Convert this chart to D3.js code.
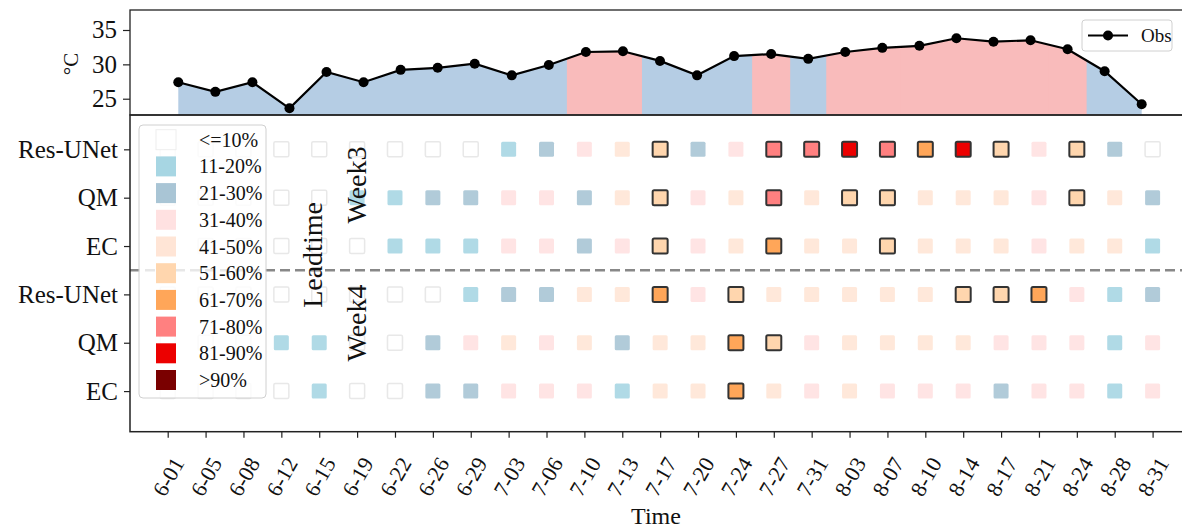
<!DOCTYPE html>
<html>
<head>
<meta charset="utf-8">
<script src="https://cdn.jsdelivr.net/npm/d3@7"></script>
<style>
    body { margin: 0; background: #fff; }
    text { font-family: "Liberation Serif", "Times New Roman", serif; fill: #111; }
</style>
</head>
<body>
<div id="chart"></div>
<script>
// data
var dates = ["6-01", "6-05", "6-08", "6-12", "6-15", "6-19", "6-22", "6-26", "6-29",
    "7-03", "7-06", "7-10", "7-13", "7-17", "7-20", "7-24", "7-27", "7-31",
    "8-03", "8-07", "8-10", "8-14", "8-17", "8-21", "8-24", "8-28", "8-31"];
var obs = [27.4, 26.0, 27.4, 23.6, 28.9, 27.4, 29.2, 29.5, 30.1, 28.4, 29.9, 31.8, 31.9, 30.5,
    28.4, 31.2, 31.5, 30.8, 31.8, 32.4, 32.7, 33.8, 33.3, 33.5, 32.2, 29.0, 24.2];
// 1 = hot period (red shading), 0 = normal (blue shading)
var hotFlag = [0, 0, 0, 0, 0, 0, 0, 0, 0, 0, 0, 1, 1, 0, 0, 0, 1, 0, 1, 1, 1, 1, 1, 1, 1, 0, 0];

var rowLabels = ["Res-UNet", "QM", "EC", "Res-UNet", "QM", "EC"];
// probability class per date: 0 "<=10%" ... 9 ">90%"
var resunetW3 = [0, 0, 0, 0, 0, 0, 0, 0, 0, 1, 2, 3, 4, 5, 2, 3, 7, 7, 8, 7, 6, 8, 5, 3, 5, 2, 0];
var qmW3      = [0, 0, 0, 0, 0, 1, 1, 2, 2, 3, 3, 2, 4, 5, 3, 4, 7, 4, 5, 5, 4, 4, 4, 3, 5, 4, 2];
var ecW3      = [0, 0, 0, 0, 0, 0, 1, 1, 1, 3, 3, 2, 3, 5, 3, 4, 6, 4, 4, 5, 4, 4, 4, 3, 4, 4, 1];
var resunetW4 = [0, 0, 0, 0, 0, 0, 0, 0, 1, 2, 2, 4, 4, 6, 3, 5, 4, 4, 4, 4, 4, 5, 5, 6, 3, 1, 2];
var qmW4      = [0, 0, 0, 1, 1, 0, 0, 2, 3, 4, 3, 4, 2, 4, 4, 6, 5, 3, 4, 4, 4, 4, 3, 3, 3, 1, 3];
var ecW4      = [0, 0, 0, 0, 1, 0, 0, 2, 2, 3, 3, 3, 1, 4, 4, 6, 4, 3, 4, 3, 3, 3, 2, 3, 3, 1, 3];
var rows = [resunetW3, qmW3, ecW3, resunetW4, qmW4, ecW4];

var classLabels = ["<=10%", "11-20%", "21-30%", "31-40%", "41-50%", "51-60%", "61-70%", "71-80%", "81-90%", ">90%"];
var classColors = ["#ffffff", "#a7d6e3", "#a9c5d5", "#ffe1e1", "#ffe5d6", "#ffd6ae", "#ffa659", "#ff8080", "#ec0000", "#7a0000"];

var width = 1182, height = 530;
var left = 130, right = 1183;
var topY0 = 10, topY1 = 115, botY1 = 431.7;

var svg = d3.select("#chart").append("svg")
    .attr("width", width)
    .attr("height", height);

// ---------- top panel: observations ----------
var xTop = d3.scalePoint().domain(dates).range([178.3, 1141.7]);
var yTop = d3.scaleLinear().domain([22.63, 37.91]).range([topY1, topY0]);
var step = xTop.step();

var area = d3.area()
    .x(function (d, i) { return xTop(dates[i]); })
    .y0(topY1)
    .y1(function (d) { return yTop(d); });

svg.append("defs").append("clipPath")
    .attr("id", "areaClip")
    .append("path")
    .attr("d", area(obs));

svg.append("path")
    .attr("d", area(obs))
    .attr("fill", "#b5cde4");

// red shading, one rect per hot day (slight overlap hides seams)
svg.append("g")
    .attr("clip-path", "url(#areaClip)")
    .selectAll("rect")
    .data(dates.filter(function (d, i) { return hotFlag[i] === 1; }))
    .enter()
    .append("rect")
    .attr("x", function (d) { return xTop(d) - step / 2 - 0.5; })
    .attr("y", topY0)
    .attr("width", step + 1)
    .attr("height", topY1 - topY0)
    .attr("fill", "#f9bbbb");

var line = d3.line()
    .x(function (d, i) { return xTop(dates[i]); })
    .y(function (d) { return yTop(d); });

svg.append("path")
    .attr("d", line(obs))
    .attr("fill", "none")
    .attr("stroke", "#000")
    .attr("stroke-width", 2.2);

svg.append("g").selectAll("circle")
    .data(obs)
    .enter()
    .append("circle")
    .attr("cx", function (d, i) { return xTop(dates[i]); })
    .attr("cy", function (d) { return yTop(d); })
    .attr("r", 5)
    .attr("fill", "#000");

var yAxisTop = svg.append("g")
    .attr("transform", "translate(" + left + ",0)")
    .call(d3.axisLeft(yTop).tickValues([25, 30, 35]).tickSize(7).tickPadding(6));
yAxisTop.select(".domain").remove();
yAxisTop.selectAll("line").attr("stroke", "#222").attr("stroke-width", 1.2);
yAxisTop.selectAll("text").style("font-size", "25px").attr("fill", "#111");

svg.append("text")
    .attr("transform", "translate(78,64) rotate(-90)")
    .attr("text-anchor", "middle")
    .style("font-size", "21px")
    .text("°C");

svg.append("rect")
    .attr("x", left).attr("y", topY0)
    .attr("width", right - left).attr("height", topY1 - topY0)
    .attr("fill", "none")
    .attr("stroke", "#222")
    .attr("stroke-width", 1.3);

// Obs legend
var obsLeg = svg.append("g");
obsLeg.append("rect")
    .attr("x", 1082).attr("y", 20).attr("width", 90).attr("height", 31).attr("rx", 3)
    .attr("fill", "#fff").attr("fill-opacity", 0.8)
    .attr("stroke", "#d0d0d0");
obsLeg.append("line")
    .attr("x1", 1088).attr("x2", 1128).attr("y1", 35.5).attr("y2", 35.5)
    .attr("stroke", "#000").attr("stroke-width", 2.2);
obsLeg.append("circle").attr("cx", 1108).attr("cy", 35.5).attr("r", 5).attr("fill", "#000");
obsLeg.append("text").attr("x", 1141).attr("y", 42).style("font-size", "19px").text("Obs");

// ---------- bottom panel: probability grid ----------
var xBot = d3.scalePoint().domain(dates).range([167.7, 1152.6]);
var yBot = d3.scaleLinear().domain([-0.71, 5.84]).range([topY1, botY1]);
var sq = 15;

var cells = [];
rows.forEach(function (r, ri) {
    r.forEach(function (c, ci) {
        cells.push({row: ri, date: dates[ci], cls: c});
    });
});

svg.append("g").selectAll("rect")
    .data(cells)
    .enter()
    .append("rect")
    .attr("x", function (d) { return xBot(d.date) - sq / 2; })
    .attr("y", function (d) { return yBot(d.row) - sq / 2; })
    .attr("width", sq)
    .attr("height", sq)
    .attr("rx", 1.5)
    .attr("fill", function (d) { return classColors[d.cls]; })
    .attr("stroke", function (d) {
        if (d.cls >= 5) return "#333";
        if (d.cls === 0) return "#e6e6e6";
        return "none";
    })
    .attr("stroke-width", function (d) { return d.cls >= 5 ? 2 : 1.5; })
    .attr("opacity", function (d) { return d.cls >= 5 ? 1 : 0.9; });

// dashed separator between Week3 and Week4
svg.append("line")
    .attr("x1", left).attr("x2", right)
    .attr("y1", yBot(2.5)).attr("y2", yBot(2.5))
    .attr("stroke", "#888")
    .attr("stroke-width", 2.5)
    .attr("stroke-dasharray", "10,5");

svg.append("rect")
    .attr("x", left).attr("y", topY1)
    .attr("width", right - left).attr("height", botY1 - topY1)
    .attr("fill", "none")
    .attr("stroke", "#222")
    .attr("stroke-width", 1.5);

var yAxisBot = svg.append("g")
    .attr("transform", "translate(" + left + ",0)")
    .call(d3.axisLeft(yBot).tickValues([0, 1, 2, 3, 4, 5])
        .tickFormat(function (d) { return rowLabels[d]; })
        .tickSize(6).tickPadding(6));
yAxisBot.select(".domain").remove();
yAxisBot.selectAll("line").attr("stroke", "#222").attr("stroke-width", 1.2);
yAxisBot.selectAll("text").style("font-size", "25px").attr("fill", "#111");

var xAxisBot = svg.append("g")
    .attr("transform", "translate(0," + botY1 + ")")
    .call(d3.axisBottom(xBot).tickSize(6));
xAxisBot.select(".domain").remove();
xAxisBot.selectAll("line").attr("stroke", "#222").attr("stroke-width", 1.2);
xAxisBot.selectAll("text")
    .attr("y", 0)
    .attr("dy", "0.35em")
    .attr("transform", "translate(0,45) rotate(-60)")
    .attr("text-anchor", "middle")
    .style("font-size", "22px")
    .attr("fill", "#111");

svg.append("text")
    .attr("x", (left + width) / 2)
    .attr("y", 524)
    .attr("text-anchor", "middle")
    .style("font-size", "24px")
    .text("Time");

// class legend
var leg = svg.append("g");
leg.append("rect")
    .attr("x", 139).attr("y", 125).attr("width", 127).attr("height", 273).attr("rx", 4)
    .attr("fill", "#fff").attr("fill-opacity", 0.8)
    .attr("stroke", "#d0d0d0");
var legItems = leg.selectAll("g.item")
    .data(classLabels)
    .enter()
    .append("g")
    .attr("class", "item")
    .attr("transform", function (d, i) { return "translate(156," + (139.7 + i * 26.7) + ")"; });
legItems.append("rect")
    .attr("x", 0).attr("y", -10).attr("width", 20).attr("height", 20)
    .attr("fill", function (d, i) { return classColors[i]; })
    .attr("stroke", function (d, i) { return i === 0 ? "#eeeeee" : "none"; });
legItems.append("text")
    .attr("x", 43)
    .attr("y", 7)
    .style("font-size", "20px")
    .text(function (d) { return d; });

// leadtime annotations
svg.append("text")
    .attr("transform", "translate(322,255) rotate(-90)")
    .attr("text-anchor", "middle")
    .style("font-size", "28px")
    .text("Leadtime");
svg.append("text")
    .attr("transform", "translate(366,185) rotate(-90)")
    .attr("text-anchor", "middle")
    .style("font-size", "28px")
    .text("Week3");
svg.append("text")
    .attr("transform", "translate(366,323) rotate(-90)")
    .attr("text-anchor", "middle")
    .style("font-size", "28px")
    .text("Week4");
</script>
</body>
</html>
